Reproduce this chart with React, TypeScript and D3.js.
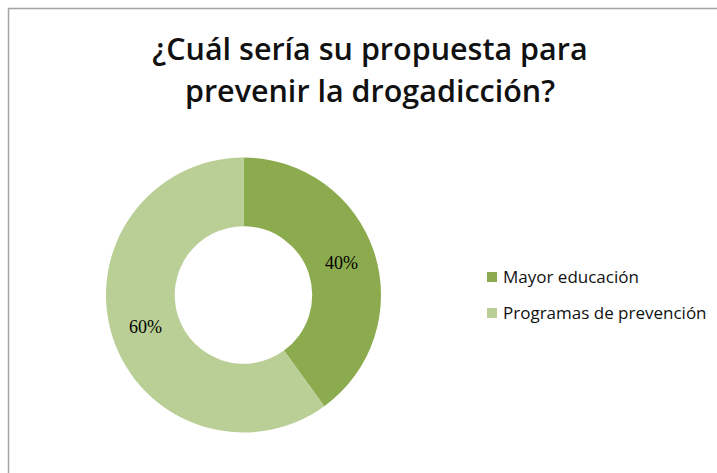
import { useRef, useEffect } from 'react';
import * as d3 from 'd3';

const titleLines = ['¿Cuál sería su propuesta para', 'prevenir la drogadicción?'];
const categories = ['Mayor educación', 'Programas de prevención'];
const values = [40, 60];
const colors = ['#8CAA4E', '#B9CF95'];

const width = 717;
const height = 473;

const App = () => {
  const svgRef = useRef<SVGSVGElement>(null);

  useEffect(() => {
    if (!svgRef.current) return;

    const svg = d3.select(svgRef.current);
    svg.selectAll('*').remove();

    svg
      .append('rect')
      .attr('width', width)
      .attr('height', height)
      .attr('fill', '#fff');

    // chart frame, runs off the right and bottom edges
    svg
      .append('rect')
      .attr('x', 8.5)
      .attr('y', 8.5)
      .attr('width', width + 20)
      .attr('height', height + 20)
      .attr('fill', 'none')
      .attr('stroke', '#a3a3a3')
      .attr('stroke-width', 1.5);

    svg
      .append('g')
      .selectAll('text')
      .data(titleLines)
      .enter()
      .append('text')
      .attr('x', 370)
      .attr('y', (d, i) => 60 + i * 42)
      .attr('text-anchor', 'middle')
      .attr('font-family', '"Open Sans", sans-serif')
      .attr('font-weight', 600)
      .attr('font-size', 30.5)
      .attr('fill', '#111')
      .text((d) => d);

    const data = categories.map((c, i) => ({ category: c, value: values[i] }));

    const color = d3
      .scaleOrdinal<string, string>()
      .domain(categories)
      .range(colors);

    const radius = 137.5;

    const pie = d3
      .pie<{ category: string; value: number }>()
      .value((d) => d.value)
      .sort(null);

    const arc = d3
      .arc<d3.PieArcDatum<{ category: string; value: number }>>()
      .innerRadius(radius * 0.5)
      .outerRadius(radius);

    const g = svg.append('g').attr('transform', `translate(243.5, 295)`);

    const pieData = pie(data);

    g.selectAll('path')
      .data(pieData)
      .enter()
      .append('path')
      .attr('d', arc)
      .attr('fill', (d) => color(d.data.category));

    const total = d3.sum(values);

    g.selectAll('.label')
      .data(pieData)
      .enter()
      .append('text')
      .attr('class', 'label')
      .attr('transform', (d) => `translate(${arc.centroid(d)})`)
      .attr('text-anchor', 'middle')
      .attr('dy', '0.35em')
      .attr('font-family', '"Liberation Serif", serif')
      .attr('font-size', 18)
      .attr('fill', '#000')
      .text((d) => `${Math.round((d.data.value / total) * 100)}%`);

    const legend = svg.append('g').attr('transform', `translate(487, 277)`);

    const legendItems = legend
      .selectAll('.legend-item')
      .data(data)
      .enter()
      .append('g')
      .attr('class', 'legend-item')
      .attr('transform', (d, i) => `translate(0, ${i * 36})`);

    legendItems
      .append('rect')
      .attr('y', -5)
      .attr('width', 10)
      .attr('height', 10)
      .attr('fill', (d) => color(d.category));

    legendItems
      .append('text')
      .attr('x', 16)
      .attr('dy', '0.35em')
      .attr('font-family', '"Open Sans", sans-serif')
      .attr('font-size', 17)
      .attr('fill', '#111')
      .text((d) => d.category);
  }, []);

  return (
    <svg
      ref={svgRef}
      width={width}
      height={height}
      style={{ position: 'absolute', left: 0, top: 0, display: 'block' }}
    ></svg>
  );
};

export default App;
